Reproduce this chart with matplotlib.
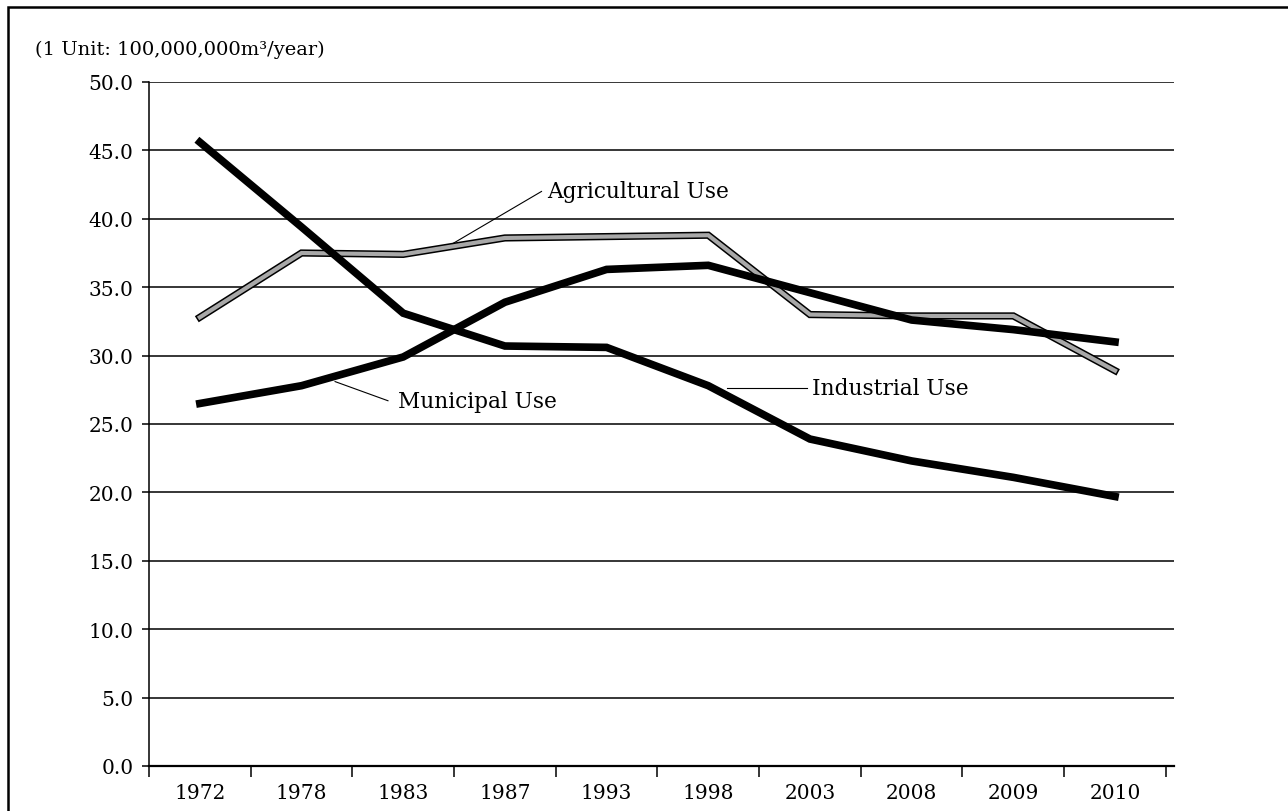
import matplotlib
matplotlib.use("Agg")
import matplotlib.pyplot as plt
import numpy as np

years = ["1972", "1978", "1983", "1987", "1993", "1998", "2003", "2008", "2009", "2010"]
industrial = [45.6, 39.4, 33.1, 30.7, 30.6, 27.8, 23.9, 22.3, 21.1, 19.7]
municipal = [26.5, 27.8, 29.9, 33.9, 36.3, 36.6, 34.6, 32.6, 31.9, 31.0]
agricultural = [32.8, 37.5, 37.4, 38.6, 38.7, 38.8, 33.0, 32.9, 32.9, 28.9]
yticks = [0, 5, 10, 15, 20, 25, 30, 35, 40, 45, 50]

plt.rcParams['font.family'] = ['DejaVu Serif']
fsize = 14.5
lsize = 15.6

fig = plt.figure(figsize=(12.88, 8.12), dpi=100)
ax = fig.add_axes([149/1288, 1 - 767/812, 1025/1288, 684/812])

x = np.arange(len(years))

# agricultural: grey line with dark edges
ax.plot(x, agricultural, color="black", lw=5.2, solid_joinstyle="miter", zorder=3)
ax.plot(x, agricultural, color="#a8a8a8", lw=3.0, solid_joinstyle="miter", zorder=4)
ax.plot(x, municipal, color="black", lw=5.5, solid_joinstyle="miter", zorder=5)
ax.plot(x, industrial, color="black", lw=5.5, solid_joinstyle="miter", zorder=5)

ax.set_ylim(0, 50)
ax.set_xlim(-0.5, 9.58)
ax.set_yticks(yticks)
ax.set_yticklabels(["%.1f" % v for v in yticks], fontsize=fsize)
for v in yticks[1:]:
    ax.axhline(v, color="black", lw=1.1, zorder=1)

ax.set_xticks(np.arange(-0.5, 10, 1))
ax.set_xticklabels([])
ax.set_xticks(x, minor=True)
ax.set_xticklabels(years, minor=True, fontsize=fsize)
ax.tick_params(axis="x", which="major", length=8, width=1.1, direction="out")
ax.tick_params(axis="x", which="minor", length=0, pad=12)
ax.tick_params(axis="y", length=5, width=1.1, pad=6)

ax.spines["top"].set_visible(False)
ax.spines["right"].set_visible(False)
ax.spines["left"].set_linewidth(1.1)
ax.spines["bottom"].set_linewidth(1.6)

# labels with leader lines
ax.plot([2.49, 3.36], [38.2, 42.0], color="black", lw=0.8, zorder=6)
ax.text(3.42, 42.0, "Agricultural Use", fontsize=lsize, va="center", ha="left")
ax.plot([1.33, 1.85], [28.1, 26.7], color="black", lw=0.8, zorder=6)
ax.text(1.95, 26.7, "Municipal Use", fontsize=lsize, va="center", ha="left")
ax.plot([5.18, 5.97], [27.6, 27.6], color="black", lw=0.8, zorder=6)
ax.text(6.02, 27.6, "Industrial Use", fontsize=lsize, va="center", ha="left")

fig.text(35/1288, 1 - 50/812, "(1 Unit: 100,000,000m³/year)", fontsize=14,
         va="center", ha="left")

# outer frame
fig.patches.append(plt.Rectangle((8/1288, -0.01), 1.1, 1 - 8/812 + 0.01,
                                 transform=fig.transFigure, fill=False,
                                 edgecolor="black", lw=1.8))

fig.savefig("out.png", dpi=100)
